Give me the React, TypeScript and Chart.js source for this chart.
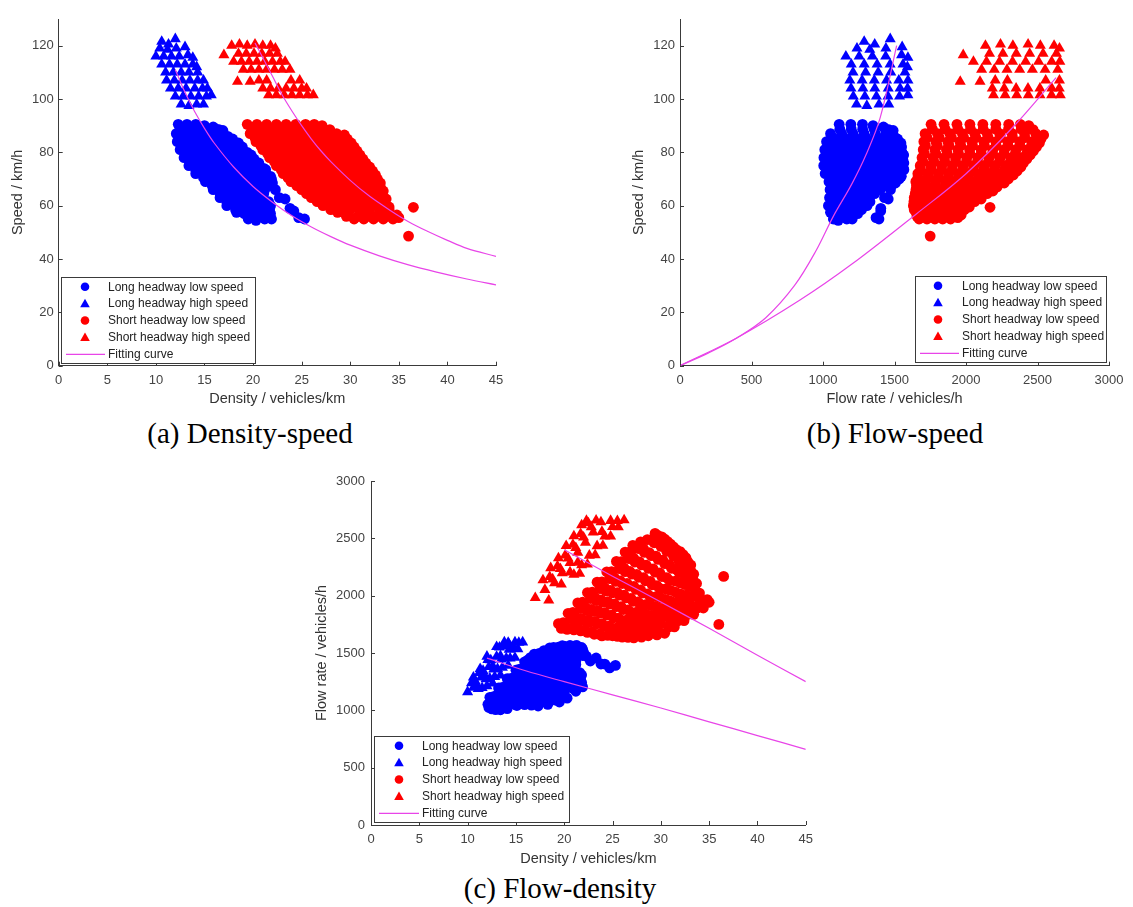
import React, { useEffect, useRef } from "react";
import { Chart, registerables } from "chart.js";
Chart.register(...registerables);

// ---- Data: [density veh/km, speed km/h] ----
const longLow: [number, number][] = [
  [12.3, 90.5], [13.2, 90.5], [14.1, 90.5], [15.0, 90], [15.9, 89.5], [16.5, 88.5],
  [12.6, 88.7], [13.5, 88.7], [14.4, 88.7], [15.3, 88.7], [16.2, 88.7], [16.9, 88.2],
  [12.1, 87], [13.0, 87], [13.9, 87], [14.8, 87], [15.7, 87], [16.6, 86.5], [17.4, 86],
  [12.5, 85.5], [13.4, 85.5], [14.3, 85.5], [15.2, 85.5], [16.1, 85.5], [17.0, 85.5], [17.9, 85],
  [12.2, 84], [13.1, 84], [14.0, 84], [14.9, 84], [15.8, 84], [16.7, 84], [17.6, 84], [18.5, 83.5],
  [12.7, 82.5], [13.6, 82.5], [14.5, 82.5], [15.4, 82.5], [16.3, 82.5], [17.2, 82.5], [18.1, 82.5], [18.9, 82],
  [12.5, 81], [13.4, 81], [14.3, 81], [15.2, 81], [16.1, 81], [17.0, 81], [17.9, 81], [18.8, 81], [19.4, 80],
  [13.0, 79.5], [13.9, 79.5], [14.8, 79.5], [15.7, 79.5], [16.6, 79.5], [17.5, 79.5], [18.4, 79.5], [19.3, 79.5], [19.8, 79],
  [12.9, 78], [13.8, 78], [14.7, 78], [15.6, 78], [16.5, 78], [17.4, 78], [18.3, 78], [19.2, 78], [20.1, 77.5],
  [13.5, 76.5], [14.4, 76.5], [15.3, 76.5], [16.2, 76.5], [17.1, 76.5], [18.0, 76.5], [18.9, 76.5], [19.8, 76.5], [20.6, 76],
  [13.4, 75], [14.3, 75], [15.2, 75], [16.1, 75], [17.0, 75], [17.9, 75], [18.8, 75], [19.7, 75], [20.6, 75], [21.1, 74],
  [14.1, 73.5], [15.0, 73.5], [15.9, 73.5], [16.8, 73.5], [17.7, 73.5], [18.6, 73.5], [19.5, 73.5], [20.4, 73.5], [21.3, 73.5],
  [14.1, 72], [15.0, 72], [15.9, 72], [16.8, 72], [17.7, 72], [18.6, 72], [19.5, 72], [20.4, 72], [21.3, 72], [21.8, 71],
  [14.9, 70.5], [15.8, 70.5], [16.7, 70.5], [17.6, 70.5], [18.5, 70.5], [19.4, 70.5], [20.3, 70.5], [21.2, 70.5], [21.9, 70],
  [15.1, 69], [16.0, 69], [16.9, 69], [17.8, 69], [18.7, 69], [19.6, 69], [20.5, 69], [21.4, 69], [22.0, 68.5],
  [15.8, 67.5], [16.7, 67.5], [17.6, 67.5], [18.5, 67.5], [19.4, 67.5], [20.3, 67.5], [21.2, 67.5], [21.9, 67.5],
  [15.9, 66], [16.8, 66], [17.7, 66], [18.6, 66], [19.5, 66], [20.4, 66], [21.2, 66], [22.3, 66],
  [16.6, 64.5], [17.5, 64.5], [18.4, 64.5], [19.3, 64.5], [20.2, 64.5], [21.1, 64.5],
  [16.6, 63], [17.5, 63], [18.4, 63], [19.3, 63], [20.2, 63], [21.0, 63], [22.7, 63], [23.3, 62.5],
  [17.3, 61.5], [18.2, 61.5], [19.1, 61.5], [20.0, 61.5], [20.9, 61.5], [21.6, 61.5],
  [17.3, 60], [18.2, 60], [19.1, 60], [20.0, 60], [20.9, 60], [21.8, 60], [23.8, 59],
  [18.2, 58.5], [19.1, 58.5], [20.0, 58.5], [20.9, 58.5], [21.7, 58.5],
  [18.3, 57.5], [19.1, 57], [20.0, 57], [20.9, 57], [21.8, 57], [24.2, 58],
  [19.5, 55], [20.3, 54.5], [21.2, 55], [21.9, 55], [24.7, 55.5], [25.3, 55],
];

const longHigh: [number, number][] = [
  [10.6, 121.5], [12.0, 122.5], [11.3, 120.5],
  [10.4, 119], [11.2, 118.5], [12.1, 119], [13.0, 119.5],
  [10.0, 116], [10.8, 116], [11.6, 116], [12.4, 116], [13.3, 116.5], [13.8, 115.5],
  [10.6, 113], [11.4, 113], [12.2, 113], [13.0, 113], [13.8, 113], [14.2, 112],
  [11.0, 110], [11.8, 110], [12.6, 110], [13.4, 110], [14.3, 110],
  [11.1, 107], [11.9, 107], [12.7, 107], [13.5, 107], [14.3, 107], [14.9, 107],
  [11.5, 104], [12.3, 104], [13.1, 104], [14.0, 104], [14.8, 104], [15.3, 104],
  [12.0, 101], [12.8, 101], [13.6, 101], [14.4, 101], [15.2, 101], [15.7, 101.5],
  [12.6, 98], [13.4, 97.5], [14.2, 98], [14.9, 98],
];

const shortLow: [number, number][] = [
  [19.4, 90.5], [20.4, 90.5], [21.4, 90.5], [22.4, 90.5], [23.4, 90.5], [24.4, 90.5], [25.4, 90.5], [26.3, 90.5], [27.1, 90],
  [19.9, 88.7], [20.9, 88.7], [21.9, 88.7], [22.9, 88.7], [23.9, 88.7], [24.9, 88.7], [25.9, 88.7], [26.9, 88.7], [27.9, 88.5],
  [19.7, 87], [20.7, 87], [21.7, 87], [22.7, 87], [23.7, 87], [24.7, 87], [25.7, 87], [26.7, 87], [27.7, 87], [28.6, 87], [29.4, 86.5],
  [20.2, 85.5], [21.2, 85.5], [22.2, 85.5], [23.2, 85.5], [24.2, 85.5], [25.2, 85.5], [26.2, 85.5], [27.2, 85.5], [28.2, 85.5], [29.2, 85.5], [29.7, 85],
  [20.3, 84], [21.3, 84], [22.3, 84], [23.3, 84], [24.3, 84], [25.3, 84], [26.3, 84], [27.3, 84], [28.3, 84], [29.3, 84], [30.1, 83.5],
  [20.8, 82.5], [21.8, 82.5], [22.8, 82.5], [23.8, 82.5], [24.8, 82.5], [25.8, 82.5], [26.8, 82.5], [27.8, 82.5], [28.8, 82.5], [29.8, 82.5], [30.4, 82],
  [21.0, 81], [22.0, 81], [23.0, 81], [24.0, 81], [25.0, 81], [26.0, 81], [27.0, 81], [28.0, 81], [29.0, 81], [30.0, 81], [30.7, 80.5],
  [21.5, 79.5], [22.5, 79.5], [23.5, 79.5], [24.5, 79.5], [25.5, 79.5], [26.5, 79.5], [27.5, 79.5], [28.5, 79.5], [29.5, 79.5], [30.5, 79.5], [31.0, 79],
  [21.7, 78], [22.7, 78], [23.7, 78], [24.7, 78], [25.7, 78], [26.7, 78], [27.7, 78], [28.7, 78], [29.7, 78], [30.6, 78], [31.3, 77.5],
  [22.2, 76.5], [23.2, 76.5], [24.2, 76.5], [25.2, 76.5], [26.2, 76.5], [27.2, 76.5], [28.2, 76.5], [29.2, 76.5], [30.2, 76.5], [31.1, 76.5], [31.6, 76],
  [22.4, 75], [23.4, 75], [24.4, 75], [25.4, 75], [26.4, 75], [27.4, 75], [28.4, 75], [29.4, 75], [30.4, 75], [31.3, 75], [32.0, 74.5],
  [22.9, 73.5], [23.9, 73.5], [24.9, 73.5], [25.9, 73.5], [26.9, 73.5], [27.9, 73.5], [28.9, 73.5], [29.9, 73.5], [30.9, 73.5], [31.8, 73.5], [32.3, 73],
  [23.1, 72], [24.1, 72], [25.1, 72], [26.1, 72], [27.1, 72], [28.1, 72], [29.1, 72], [30.1, 72], [31.1, 72], [31.9, 72], [32.6, 71.5],
  [23.6, 70.5], [24.6, 70.5], [25.6, 70.5], [26.6, 70.5], [27.6, 70.5], [28.6, 70.5], [29.6, 70.5], [30.6, 70.5], [31.6, 70.5], [32.4, 70.5], [32.8, 70],
  [23.9, 69], [24.9, 69], [25.9, 69], [26.9, 69], [27.9, 69], [28.9, 69], [29.9, 69], [30.9, 69], [31.9, 69], [32.6, 69], [33.1, 68.5],
  [24.5, 67.5], [25.5, 67.5], [26.5, 67.5], [27.5, 67.5], [28.5, 67.5], [29.5, 67.5], [30.5, 67.5], [31.5, 67.5], [32.4, 67.5], [33.1, 67],
  [25.0, 66], [26.0, 66], [27.0, 66], [28.0, 66], [29.0, 66], [30.0, 66], [31.0, 66], [32.0, 66], [32.8, 66], [33.4, 65.5],
  [25.5, 64.5], [26.5, 64.5], [27.5, 64.5], [28.5, 64.5], [29.5, 64.5], [30.5, 64.5], [31.5, 64.5], [32.5, 64.5], [33.3, 64.5],
  [26.0, 63], [27.0, 63], [28.0, 63], [29.0, 63], [30.0, 63], [31.0, 63], [32.0, 63], [33.0, 63], [33.7, 62.5],
  [26.6, 61.5], [27.6, 61.5], [28.6, 61.5], [29.6, 61.5], [30.6, 61.5], [31.6, 61.5], [32.6, 61.5], [33.5, 61.5],
  [27.2, 60], [28.2, 60], [29.2, 60], [30.2, 60], [31.2, 60], [32.2, 60], [33.2, 60], [34.0, 59.5],
  [28.0, 58.5], [29.0, 58.5], [30.0, 58.5], [31.0, 58.5], [32.0, 58.5], [33.0, 58.5], [34.0, 58.5],
  [28.7, 57.5], [29.7, 57], [31.0, 57], [32.0, 57], [33.0, 57], [34.0, 57], [34.8, 56.5],
  [29.6, 56], [30.8, 56], [31.8, 56], [32.8, 56], [33.8, 56], [34.6, 56],
  [30.4, 55], [31.4, 55], [32.4, 55], [33.4, 55], [34.4, 55], [35.0, 55.5],
  [36.5, 59.4], [36.0, 48.6],
];

const shortHigh: [number, number][] = [
  [17.8, 120], [18.6, 120.5], [19.4, 120], [20.2, 120.5], [21.0, 120], [21.8, 120], [22.3, 119],
  [17.0, 116.5], [18.5, 117], [19.3, 117], [20.1, 117], [20.9, 117], [21.7, 117], [22.5, 117],
  [18.0, 114], [18.8, 114], [19.6, 114], [20.4, 114], [21.2, 114], [22.0, 114], [22.8, 114], [23.3, 114],
  [19.0, 111], [19.8, 111], [20.6, 111], [21.4, 111], [22.2, 111], [23.0, 111], [23.8, 111],
  [18.4, 106.5], [19.7, 106.5], [20.6, 107], [21.4, 107], [23.9, 107], [24.8, 107],
  [21.0, 104], [21.8, 104], [22.6, 104], [23.4, 104], [24.2, 104], [25.0, 104], [25.5, 104],
  [21.6, 101.5], [22.4, 101.5], [23.2, 101.5], [24.0, 101.5], [24.8, 101.5], [25.6, 101.5], [26.2, 101.5],
];

// ---- Fitting curves ----
const fitA_long: [number, number][] = [
  [12, 111], [13, 102.5], [14, 95.2], [15, 89], [16, 83.5], [18, 74.5], [20, 67.2], [22, 61.3],
  [24, 56.2], [26, 52], [28, 48.4], [30, 45.2], [33, 41.2], [36, 37.8], [39, 35], [42, 32.5], [45, 30.3],
];
const fitA_short: [number, number][] = [
  [20.2, 121], [21, 115.5], [22, 108.5], [23, 101.5], [24, 95.5], [25, 90], [26, 85], [27, 80.5],
  [28, 76.5], [30, 69.5], [32, 63.5], [34, 58.5], [36, 54], [38, 50.3], [40, 47], [42, 44], [45, 41],
];
const fitB_long: [number, number][] = [
  [0, 0], [200, 4.8], [400, 10.5], [600, 18], [800, 30], [950, 43], [1072, 56], [1200, 68],
  [1300, 79], [1400, 93], [1515, 120],
];
const fitB_short: [number, number][] = [
  [0, 0], [400, 10.5], [839, 24.6], [1200, 38], [1655, 57], [2000, 72], [2331, 89.6], [2630, 108],
];
const fitC_long: [number, number][] = [
  [12, 1455], [16, 1345], [20, 1250], [25, 1135], [30, 1020], [35, 900], [40, 780], [45, 660],
];
const fitC_short: [number, number][] = [
  [20, 2400], [25, 2170], [30, 1945], [35, 1715], [40, 1480], [45, 1250],
];

const legendLabels = [
  "Long headway low speed",
  "Long headway high speed",
  "Short headway low speed",
  "Short headway high speed",
  "Fitting curve",
];

const BLUE = "#0000ff";
const RED = "#ff0000";
const MAGENTA = "#e845e8";
const AXIS = "#3a3a3a";
const TXT = "#444444";
const SANS = "'Liberation Sans', Arial, Helvetica, sans-serif";

type P = [number, number];
// flow = density x speed
const flow = (p: P) => p[0] * p[1];
const toKV = (arr: P[]) => arr.map((p) => ({ x: p[0], y: p[1] }));
const toQV = (arr: P[]) => arr.map((p) => ({ x: flow(p), y: p[1] }));
const toKQ = (arr: P[]) => arr.map((p) => ({ x: p[0], y: flow(p) }));
const pts = (arr: P[]) => arr.map((p) => ({ x: p[0], y: p[1] }));

type LegendBox = { x: number; y: number; w: number; h: number; mx: number; tx: number };

function makePlugins(legend: LegendBox) {
  const ticks = {
    id: "inwardTicks",
    afterDraw(chart: any) {
      const { ctx, chartArea, scales } = chart;
      ctx.save();
      ctx.strokeStyle = AXIS;
      ctx.lineWidth = 1;
      ctx.beginPath();
      scales.x.ticks.forEach((t: any) => {
        const px = Math.round(scales.x.getPixelForValue(t.value)) + 0.5;
        ctx.moveTo(px, chartArea.bottom);
        ctx.lineTo(px, chartArea.bottom - 4);
      });
      scales.y.ticks.forEach((t: any) => {
        const py = Math.round(scales.y.getPixelForValue(t.value)) + 0.5;
        ctx.moveTo(chartArea.left, py);
        ctx.lineTo(chartArea.left + 4, py);
      });
      ctx.stroke();
      ctx.restore();
    },
  };
  const leg = {
    id: "insideLegend",
    afterDraw(chart: any) {
      const { ctx } = chart;
      const { x, y, w, h, mx, tx } = legend;
      ctx.save();
      ctx.fillStyle = "#ffffff";
      ctx.fillRect(x, y, w, h);
      ctx.strokeStyle = AXIS;
      ctx.lineWidth = 1;
      ctx.strokeRect(x + 0.5, y + 0.5, w, h);
      const rowH = 16.9;
      const colors = [BLUE, BLUE, RED, RED];
      ctx.font = `12px ${SANS}`;
      ctx.textBaseline = "middle";
      for (let i = 0; i < 5; i++) {
        const cy = y + 9.7 + i * rowH;
        if (i < 4) {
          ctx.fillStyle = colors[i];
          ctx.beginPath();
          if (i % 2 === 0) {
            ctx.arc(x + mx, cy, 4.3, 0, Math.PI * 2);
          } else {
            ctx.moveTo(x + mx, cy - 4.8);
            ctx.lineTo(x + mx + 4.8, cy + 3.6);
            ctx.lineTo(x + mx - 4.8, cy + 3.6);
            ctx.closePath();
          }
          ctx.fill();
        } else {
          ctx.strokeStyle = MAGENTA;
          ctx.lineWidth = 1.2;
          ctx.beginPath();
          ctx.moveTo(x + 5, cy);
          ctx.lineTo(x + tx - 3, cy);
          ctx.stroke();
        }
        ctx.fillStyle = "#222222";
        ctx.fillText(legendLabels[i], x + tx, cy + 0.5);
      }
      ctx.restore();
    },
  };
  return [ticks, leg];
}

type PanelSpec = {
  left: number;
  top: number;
  width: number;
  height: number;
  padLeft: number;
  padTop: number;
  padRight: number;
  yWidth: number;
  xHeight: number;
  yTitlePad: number;
  yTickPad: number;
  xMax: number;
  xStep: number;
  yMax: number;
  yStep: number;
  xTitle: string;
  yTitle: string;
  legend: LegendBox;
  series: { x: number; y: number }[][];
  curves: { x: number; y: number }[][];
};

function Panel({ spec }: { spec: PanelSpec }) {
  const ref = useRef<HTMLCanvasElement | null>(null);
  useEffect(() => {
    if (!ref.current) return;
    const styles = [
      { color: BLUE, style: "circle", r: 5.4 },
      { color: BLUE, style: "triangle", r: 6.4 },
      { color: RED, style: "circle", r: 5.4 },
      { color: RED, style: "triangle", r: 6.4 },
    ];
    const scatterSets = spec.series.map((data, i) => ({
      type: "scatter" as const,
      label: legendLabels[i],
      data,
      pointStyle: styles[i].style,
      pointRadius: styles[i].r,
      pointBackgroundColor: styles[i].color,
      pointBorderColor: styles[i].color,
      pointBorderWidth: 0,
      showLine: false,
      order: 4 - i,
    }));
    const curveSets = spec.curves.map((data) => ({
      type: "scatter" as const,
      label: "Fitting curve",
      data,
      showLine: true,
      borderColor: MAGENTA,
      borderWidth: 1.2,
      pointRadius: 0,
      tension: 0.35,
      fill: false,
      order: 0,
    }));
    const tickFont = { family: SANS, size: 13 };
    const titleFont = { family: SANS, size: 14.5 };
    const chart = new Chart(ref.current, {
      type: "scatter",
      data: { datasets: [...curveSets, ...scatterSets] as any },
      options: {
        animation: false,
        responsive: false,
        devicePixelRatio: 1,
        events: [],
        layout: { padding: { left: spec.padLeft, top: spec.padTop, right: spec.padRight, bottom: 0 } },
        plugins: { legend: { display: false }, tooltip: { enabled: false } },
        scales: {
          x: {
            type: "linear",
            min: 0,
            max: spec.xMax,
            afterFit: (s: any) => {
              s.height = spec.xHeight;
            },
            ticks: {
              stepSize: spec.xStep,
              includeBounds: false,
              font: tickFont,
              color: TXT,
              padding: 7,
              maxRotation: 0,
              autoSkip: false,
              callback: (v: any) => String(v),
            },
            grid: { display: false, drawTicks: false, tickLength: 0 },
            border: { display: true, color: AXIS, width: 1 },
            title: { display: true, text: spec.xTitle, font: titleFont, color: "#333333", padding: { top: 0, bottom: 2 } },
          },
          y: {
            type: "linear",
            min: 0,
            max: spec.yMax,
            afterFit: (s: any) => {
              s.width = spec.yWidth;
            },
            ticks: {
              stepSize: spec.yStep,
              includeBounds: false,
              font: tickFont,
              color: TXT,
              padding: spec.yTickPad,
              autoSkip: false,
              callback: (v: any) => String(v),
            },
            grid: { display: false, drawTicks: false, tickLength: 0 },
            border: { display: true, color: AXIS, width: 1 },
            title: { display: true, text: spec.yTitle, font: titleFont, color: "#333333", padding: { top: spec.yTitlePad, bottom: 0 } },
          },
        },
      },
      plugins: makePlugins(spec.legend) as any,
    });
    return () => chart.destroy();
  }, [spec]);
  return (
    <canvas
      ref={ref}
      width={spec.width}
      height={spec.height}
      style={{ position: "absolute", left: spec.left, top: spec.top, width: spec.width, height: spec.height }}
    />
  );
}

const specA: PanelSpec = {
  left: 0, top: 0, width: 540, height: 410,
  padLeft: 0, padTop: 19, padRight: 44, yWidth: 58.7, xHeight: 44.3, yTitlePad: 9, yTickPad: 5,
  xMax: 45, xStep: 5, yMax: 130, yStep: 20,
  xTitle: "Density / vehicles/km", yTitle: "Speed / km/h",
  legend: { x: 61, y: 277, w: 194, h: 86, mx: 24, tx: 47 },
  series: [toKV(longLow), toKV(longHigh), toKV(shortLow), toKV(shortHigh)],
  curves: [pts(fitA_long), pts(fitA_short)],
};

const specB: PanelSpec = {
  left: 600, top: 0, width: 533, height: 410,
  padLeft: 21.3, padTop: 19, padRight: 24, yWidth: 58.7, xHeight: 44.3, yTitlePad: 9, yTickPad: 5,
  xMax: 3000, xStep: 500, yMax: 130, yStep: 20,
  xTitle: "Flow rate / vehicles/h", yTitle: "Speed / km/h",
  legend: { x: 315, y: 276, w: 191, h: 86, mx: 23, tx: 47 },
  series: [toQV(longLow), toQV(longHigh), toQV(shortLow), toQV(shortHigh)],
  curves: [pts(fitB_long), pts(fitB_short)],
};

const specC: PanelSpec = {
  left: 300, top: 460, width: 520, height: 410,
  padLeft: 0, padTop: 21, padRight: 12.3, yWidth: 71, xHeight: 45, yTitlePad: 13, yTickPad: 6,
  xMax: 45, xStep: 5, yMax: 3000, yStep: 500,
  xTitle: "Density / vehicles/km", yTitle: "Flow rate / vehicles/h",
  legend: { x: 74, y: 276, w: 195, h: 86, mx: 25, tx: 48 },
  series: [toKQ(longLow), toKQ(longHigh), toKQ(shortLow), toKQ(shortHigh)],
  curves: [pts(fitC_long), pts(fitC_short)],
};

const captionStyle: React.CSSProperties = {
  position: "absolute",
  fontFamily: "'Liberation Serif', 'Times New Roman', serif",
  fontSize: 29,
  color: "#000",
  whiteSpace: "nowrap",
  transform: "translate(-50%, -50%)",
  lineHeight: 1,
};

export default function App() {
  return (
    <div style={{ position: "fixed", left: 0, top: 0, width: 1133, height: 907, background: "#fff", overflow: "hidden" }}>
      <Panel spec={specA} />
      <Panel spec={specB} />
      <Panel spec={specC} />
      <div style={{ ...captionStyle, left: 250, top: 433 }}>(a) Density-speed</div>
      <div style={{ ...captionStyle, left: 895, top: 433 }}>(b) Flow-speed</div>
      <div style={{ ...captionStyle, left: 560, top: 888 }}>(c) Flow-density</div>
    </div>
  );
}
